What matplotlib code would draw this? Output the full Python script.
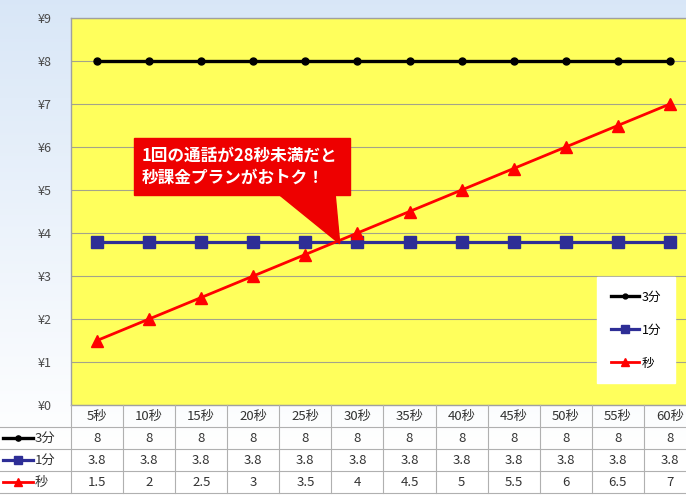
import matplotlib
matplotlib.use("Agg")
import matplotlib.pyplot as plt
import numpy as np
from matplotlib.patches import Rectangle, Polygon
from matplotlib.lines import Line2D

plt.rcParams['font.family'] = ['Noto Sans CJK JP', 'DejaVu Sans']

# data
seconds = [5, 10, 15, 20, 25, 30, 35, 40, 45, 50, 55, 60]
col_labels = ['%d秒' % s for s in seconds]
plan_3min = [8, 8, 8, 8, 8, 8, 8, 8, 8, 8, 8, 8]
plan_1min = [3.8, 3.8, 3.8, 3.8, 3.8, 3.8, 3.8, 3.8, 3.8, 3.8, 3.8, 3.8]
plan_sec = [1.5, 2, 2.5, 3, 3.5, 4, 4.5, 5, 5.5, 6, 6.5, 7]
series_names = ['3分', '1分', '秒']
callout = '1回の通話が28秒未満だと\n秒課金プランがおトク！'

W, H = 686, 495
fig = plt.figure(figsize=(W / 100, H / 100), dpi=100)

# light blue gradient background
bg = fig.add_axes([0, 0, 1, 1], zorder=-5)
grad = np.linspace(0, 1, 256).reshape(-1, 1)
top = np.array([0.85, 0.905, 0.97])
bot = np.array([1.0, 1.0, 1.0])
img = top + (bot - top) * np.clip(grad * 1.1, 0, 1)[..., None]
bg.imshow(img.reshape(256, 1, 3), aspect='auto', extent=[0, 1, 0, 1])
bg.axis('off')

# main plot area (pixel geometry)
left_px, right_px, top_px, bot_px = 71, 696, 18, 405
ax = fig.add_axes([left_px / W, 1 - bot_px / H, (right_px - left_px) / W,
                   (bot_px - top_px) / H])
ax.set_facecolor('#ffff5c')
ax.set_xlim(2.5, 62.5)
ax.set_ylim(0, 9)
ax.set_yticks(range(10))
ax.set_yticklabels(['¥%d' % v for v in range(10)], fontsize=9, color='#4a4a4a')
ax.set_xticks([])
ax.tick_params(axis='y', length=0, pad=14)
ax.grid(axis='y', color='#a4a48a', lw=0.8)
ax.set_axisbelow(True)
for s in ax.spines.values():
    s.set_color('#a0a0a0')
    s.set_linewidth(1)

styles = [
    dict(color='black', marker='o', ms=5, lw=2.4),
    dict(color='#2e2e96', marker='s', ms=8, lw=2.3),
    dict(color='#ff0000', marker='^', ms=8, lw=2),
]
all_series = [plan_3min, plan_1min, plan_sec]
handles = []
for vals, name, st in zip(all_series, series_names, styles):
    h, = ax.plot(seconds, vals, label=name, **st)
    handles.append(h)

leg = ax.legend(handles=handles, loc='center',
                bbox_to_anchor=(636 / W, 1 - 330 / H),
                bbox_transform=fig.transFigure, fontsize=9,
                handlelength=2.3, labelspacing=1.6, borderpad=1.1,
                handletextpad=0.2, fancybox=False, framealpha=1,
                markerscale=0.7, edgecolor='white', facecolor='white')

# callout box pointing at the break-even point
cross_x = np.interp(plan_1min[0], plan_sec, seconds)
ppx = 60 / (right_px - left_px)
ppy = 9 / (bot_px - top_px)
def px2data(px, py):
    return 2.5 + (px - left_px) * ppx, (bot_px - py) * ppy
x0, y1 = px2data(134, 138)
x1, y0 = px2data(350, 195)
ax.add_patch(Rectangle((x0, y0), x1 - x0, y1 - y0, color='#ee0000', zorder=6))
bx0, _ = px2data(277, 195)
bx1, _ = px2data(335, 195)
ax.add_patch(Polygon([(bx0, y0 + 0.05), (bx1, y0 + 0.05), (cross_x + 0.3, plan_1min[0] - 0.05)],
                     closed=True, color='#ee0000', zorder=6))
tx, _ = px2data(142, 0)
ax.text(tx, (y0 + y1) / 2, callout, color='white', fontsize=12,
        fontweight='bold', ha='left', va='center', linespacing=1.3, zorder=7)

# data table under the chart
tb_top, tb_bot = 405, 493
tax = fig.add_axes([left_px / W, 1 - tb_bot / H, (right_px - left_px) / W,
                    (tb_bot - tb_top) / H])
tax.set_xlim(2.5, 62.5)
tax.set_ylim(4, 0)
tax.axis('off')
grid_c = '#b0b0b0'
col0 = 2.5 - left_px * ppx
edges = [2.5 + 5 * k for k in range(13)]
for e in edges:
    tax.plot([e, e], [0, 4], color=grid_c, lw=0.8, clip_on=False)
for r in [1, 2, 3, 4]:
    tax.plot([col0, 62.5], [r, r], color=grid_c, lw=0.8, clip_on=False)
for x, lab in zip(seconds, col_labels):
    tax.text(x, 0.5, lab, ha='center', va='center', fontsize=9.5, color='#333333')
for r, (vals, name, st) in enumerate(zip(all_series, series_names, styles), start=1):
    for x, v in zip(seconds, vals):
        tax.text(x, r + 0.5, '%g' % v, ha='center', va='center', fontsize=9.5,
                 color='#333333')
    lx0 = col0 + 3 * ppx
    lx1 = col0 + 33 * ppx
    tax.add_line(Line2D([lx0, lx1], [r + 0.5, r + 0.5], clip_on=False,
                        color=st['color'], lw=st['lw'], marker=None))
    tax.add_line(Line2D([(lx0 + lx1) / 2], [r + 0.5], clip_on=False,
                        color=st['color'], marker=st['marker'],
                        ms=st['ms'] * 0.75, lw=0))
    tax.text(col0 + 35 * ppx, r + 0.5, name, ha='left', va='center',
             fontsize=9.5, color='#333333')

fig.savefig('out.png', dpi=100)
